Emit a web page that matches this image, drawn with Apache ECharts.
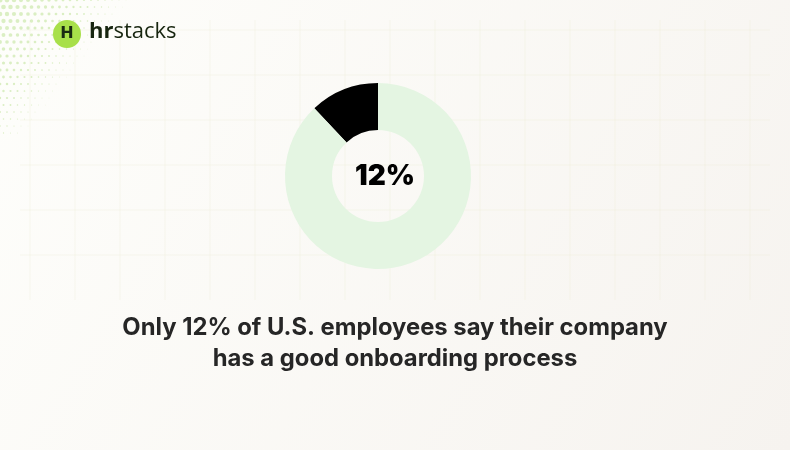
<!DOCTYPE html>
<html><head><meta charset="utf-8">
<script src="https://cdn.jsdelivr.net/npm/echarts@6/dist/echarts.min.js"></script>
<style>body{margin:0}#c{width:790px;height:450px}</style></head>
<body><div id="c"></div>
<script>
const categories = ['Good onboarding', 'Other'];
const values = [12, 88];
const centerLabel = '12%';
const titleLines = ['Only 12% of U.S. employees say their company', 'has a good onboarding process'];

const chart = echarts.init(document.getElementById('c'));
const grid = [];
for (let x = 30; x < 760; x += 45) grid.push({type:'line', shape:{x1:x,y1:20,x2:x,y2:300}, style:{stroke:'rgba(235,232,205,0.3)',lineWidth:1}, silent:true});
for (let y = 30; y < 300; y += 45) grid.push({type:'line', shape:{x1:20,y1:y,x2:770,y2:y}, style:{stroke:'rgba(235,232,205,0.3)',lineWidth:1}, silent:true});
const dots = [];
for (let r = 0; r < 20; r++) for (let c = 0; c < 20; c++) {
  const x = c*7 + (r%2)*3.5, y = r*7;
  const d = 1 - (x + y*0.8) / 130;
  if (d > 0) dots.push({type:'circle', shape:{cx:x,cy:y,r:2.2*d+0.3}, style:{fill:'rgba(190,225,150,0.55)'}, silent:true});
}
chart.setOption({
  backgroundColor: {type:'linear',x:0,y:0,x2:1,y2:1,colorStops:[{offset:0,color:'#fefefb'},{offset:1,color:'#f6f3ef'}]},
  graphic: [...grid, ...dots,
    {type:'circle', shape:{cx:67,cy:34,r:14}, style:{fill:'#a8e04a'}},
    {type:'text', x:67, y:34, style:{text:'H', font:'bold 16px "DejaVu Sans", sans-serif', fill:'#1a2b12', align:'center', verticalAlign:'middle'}},
    {type:'text', left:89, top:21, style:{rich:{a:{font:'bold 22px "Open Sans", sans-serif',fill:'#17250f'},b:{font:'22px "Open Sans", sans-serif',fill:'#17250f'}}, text:'{a|hr}{b|stacks}'}},
    {type:'text', x:395, y:312, style:{text:titleLines.join('\n'), font:'bold 23.8px Inter, sans-serif', fill:'#262626', align:'center', lineHeight:31}}
  ],
  series: [{
    type:'pie', center:[378,176], radius:[46,93], startAngle:90, clockwise:false,
    silent:true, label:{show:false}, labelLine:{show:false},
    data: categories.map((n,i)=>({name:n, value:values[i], itemStyle:{color: i===0?'#000000':'#e4f5e2'}}))
  }],
  title: {text:centerLabel, left:380, top:158, textAlign:'center', textStyle:{fontSize:28, fontWeight:900, fontFamily:'Inter, sans-serif', color:'#000'}}
});
</script></body></html>
